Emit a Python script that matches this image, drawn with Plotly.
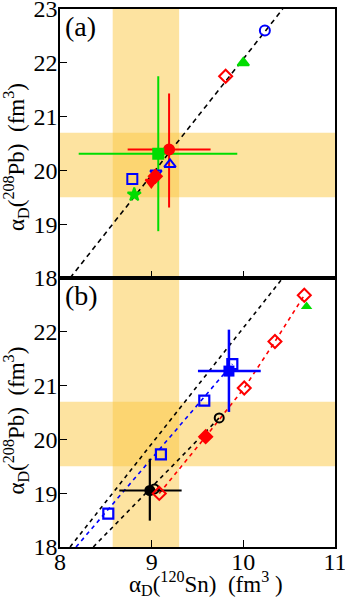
import plotly.graph_objects as go

# ---------------- data ----------------
# shaded experimental bands
band_x = [8.575, 9.30]      # alpha_D(120Sn)
band_y = [19.50, 20.70]     # alpha_D(208Pb)

# panel (a) correlation line
line_a_x = [8.11, 10.43]
line_a_y = [18.0, 23.0]

# panel (a) points
a_x = [10.235, 10.00, 9.807, 9.19, 9.072, 9.20, 9.047, 9.04, 8.996, 8.789, 8.81]
a_y = [22.60, 22.00, 21.75, 20.39, 20.31, 20.11, 19.95, 19.89, 19.78, 19.84, 19.55]
a_sym = ["circle-open", "triangle-up", "diamond-open", "circle", "square",
         "triangle-up-open", "triangle-down-open", "diamond", "triangle-down",
         "square-open", "star"]
a_col = ["blue", "#00dd00", "red", "red", "#00dd00", "blue", "blue", "red", "red",
         "blue", "#00dd00"]

# panel (a) error bars
err_a_red_x, err_a_red_y = 9.19, 20.39
err_a_red_xm, err_a_red_xp = 0.452, 0.453
err_a_red_ym, err_a_red_yp = 1.08, 1.04
err_a_grn_x, err_a_grn_y = 9.072, 20.31
err_a_grn_xm, err_a_grn_xp = 0.868, 0.862
err_a_grn_ym, err_a_grn_yp = 1.44, 1.44

# panel (b) lines
line_b1_x = [8.11, 10.43]
line_b1_y = [18.0, 23.0]
line_b2_x = [8.363, 9.737]
line_b2_y = [18.0, 20.40]
blue_line_x = [8.175, 9.88]
blue_line_y = [18.0, 21.40]

# panel (b) series
blue_sq_x = [8.527, 9.101, 9.574, 9.88]
blue_sq_y = [18.62, 19.72, 20.72, 21.40]
blue_fill_x, blue_fill_y = 9.843, 21.27
blue_err_xm, blue_err_xp = 0.338, 0.347
blue_err_ym, blue_err_yp = 0.76, 0.77

red_dia_x = [9.083, 9.589, 10.01, 10.345, 10.665]
red_dia_y = [18.996, 20.05, 20.955, 21.82, 22.68]
red_dia_sym = ["diamond-open", "diamond", "diamond-open", "diamond-open", "diamond-open"]

black_open_x = [9.737, 9.03]
black_open_y = [20.40, 19.08]
black_fill_x, black_fill_y = 8.98, 19.05
black_err_xm, black_err_xp = 0.333, 0.347
black_err_ym, black_err_yp = 0.56, 0.59

green_b_x, green_b_y = 10.69, 22.47

x_ticks = [8, 9, 10, 11]
y_ticks = [18, 19, 20, 21, 22, 23]

y_title = "α<sub>D</sub>(<sup>208</sup>Pb)  (fm<sup>3</sup>)"
x_title = "α<sub>D</sub>(<sup>120</sup>Sn)  (fm<sup>3</sup> )"

# ---------------- figure ----------------
fig = go.Figure()
BAND = "rgba(252,199,65,0.5)"
FONT = "Liberation Serif"
GREEN = "#00dd00"

for xr, yr in (("x", "y"), ("x2", "y2")):
    fig.add_shape(type="rect", xref=xr, yref=yr + " domain", x0=band_x[0], x1=band_x[1],
                  y0=0, y1=1, fillcolor=BAND, line_width=0, layer="below")
    fig.add_shape(type="rect", xref=xr + " domain", yref=yr, x0=0, x1=1,
                  y0=band_y[0], y1=band_y[1], fillcolor=BAND, line_width=0, layer="below")


def err(xv, yv, xm, xp, ym, yp, col, th, xa, ya, msym=None, msize=0.1):
    return go.Scatter(x=[xv], y=[yv], mode="markers",
                      marker=dict(size=msize, color=col, symbol=msym or "circle"),
                      error_x=dict(type="data", symmetric=False, array=[xp], arrayminus=[xm],
                                   color=col, thickness=th, width=0),
                      error_y=dict(type="data", symmetric=False, array=[yp], arrayminus=[ym],
                                   color=col, thickness=th, width=0),
                      xaxis=xa, yaxis=ya, showlegend=False, hoverinfo="skip")


# panel a
fig.add_trace(go.Scatter(x=line_a_x, y=line_a_y, mode="lines",
                         line=dict(color="black", width=1.6, dash="5px,4px"),
                         xaxis="x", yaxis="y", showlegend=False))
fig.add_trace(err(err_a_red_x, err_a_red_y, err_a_red_xm, err_a_red_xp,
                  err_a_red_ym, err_a_red_yp, "red", 2, "x", "y"))
fig.add_trace(err(err_a_grn_x, err_a_grn_y, err_a_grn_xm, err_a_grn_xp,
                  err_a_grn_ym, err_a_grn_yp, GREEN, 2, "x", "y"))
fig.add_trace(go.Scatter(x=a_x, y=a_y, mode="markers",
                         marker=dict(symbol=a_sym, color=a_col, size=10,
                                     line=dict(color=a_col, width=2)),
                         xaxis="x", yaxis="y", showlegend=False))

# panel b
for lx, ly, c in ((line_b1_x, line_b1_y, "black"), (line_b2_x, line_b2_y, "black"),
                  (blue_line_x, blue_line_y, "blue"), (red_dia_x, red_dia_y, "red")):
    fig.add_trace(go.Scatter(x=lx, y=ly, mode="lines",
                             line=dict(color=c, width=1.6, dash="4px,4px"),
                             xaxis="x2", yaxis="y2", showlegend=False))
fig.add_trace(err(black_fill_x, black_fill_y, black_err_xm, black_err_xp,
                  black_err_ym, black_err_yp, "black", 2.2, "x2", "y2", "circle", 11))
fig.add_trace(go.Scatter(x=black_open_x, y=black_open_y, mode="markers",
                         marker=dict(symbol="circle-open", size=9, color="black", line=dict(width=2)),
                         xaxis="x2", yaxis="y2", showlegend=False))
fig.add_trace(err(blue_fill_x, blue_fill_y, blue_err_xm, blue_err_xp,
                  blue_err_ym, blue_err_yp, "blue", 2.5, "x2", "y2", "square", 11))
fig.add_trace(go.Scatter(x=blue_sq_x, y=blue_sq_y, mode="markers",
                         marker=dict(symbol="square-open", size=10, color="blue", line=dict(width=2.2)),
                         xaxis="x2", yaxis="y2", showlegend=False))
fig.add_trace(go.Scatter(x=red_dia_x, y=red_dia_y, mode="markers",
                         marker=dict(symbol=red_dia_sym, size=10, color="red",
                                     line=dict(color="red", width=2)),
                         xaxis="x2", yaxis="y2", showlegend=False))
fig.add_trace(go.Scatter(x=[green_b_x], y=[green_b_y], mode="markers",
                         marker=dict(symbol="triangle-up", size=10, color=GREEN),
                         xaxis="x2", yaxis="y2", showlegend=False))

TICKFONT = dict(family=FONT, size=24, color="black")
ax_common = dict(range=[8, 11.0001], tickvals=x_ticks, ticks="inside", ticklen=7, tickwidth=1.2,
                 tickcolor="black", showline=True, linecolor="black", linewidth=1.5,
                 mirror=True, showgrid=False, zeroline=False, automargin=False,
                 tickfont=TICKFONT, ticklabeloverflow="allow", ticklabelstandoff=-8)
ay_common = dict(range=[18, 23.0001], tickvals=y_ticks, ticks="inside", ticklen=7, tickwidth=1.2,
                 tickcolor="black", showline=True, linecolor="black", linewidth=1.5,
                 mirror=True, showgrid=False, zeroline=False, automargin=False,
                 tickfont=TICKFONT, ticklabeloverflow="allow", ticklabelstandoff=-4)

TITLEFONT = dict(family=FONT, size=23, color="black")
fig.update_layout(
    width=345, height=600,
    margin=dict(l=60, r=10, t=9, b=53),
    paper_bgcolor="white", plot_bgcolor="white",
    xaxis=dict(ax_common, anchor="y", showticklabels=False),
    yaxis=dict(ay_common, domain=[0.5, 1.0], anchor="x"),
    xaxis2=dict(ax_common, anchor="y2"),
    yaxis2=dict(ay_common, domain=[0.0, 0.5], anchor="x2", tickvals=y_ticks[:-1]),
    annotations=[
        dict(text="(a)", xref="x domain", yref="y domain", x=0.01, y=1.0,
             xanchor="left", yanchor="top", showarrow=False,
             font=dict(family=FONT, size=28, color="black")),
        dict(text="(b)", xref="x2 domain", yref="y2 domain", x=0.01, y=1.0,
             xanchor="left", yanchor="top", showarrow=False,
             font=dict(family=FONT, size=28, color="black")),
        dict(text=y_title, xref="paper", yref="y domain", x=-0.16, y=0.45,
             xanchor="center", yanchor="middle", textangle=-90, showarrow=False,
             font=TITLEFONT),
        dict(text=y_title, xref="paper", yref="y2 domain", x=-0.16, y=0.47,
             xanchor="center", yanchor="middle", textangle=-90, showarrow=False,
             font=TITLEFONT),
        dict(text=x_title, xref="x2 domain", yref="paper", x=0.53, y=-0.067,
             xanchor="center", yanchor="middle", showarrow=False, font=TITLEFONT),
    ],
)

fig.write_html("out.html", config={"displayModeBar": False},
               post_script="document.body.style.margin='0';")
